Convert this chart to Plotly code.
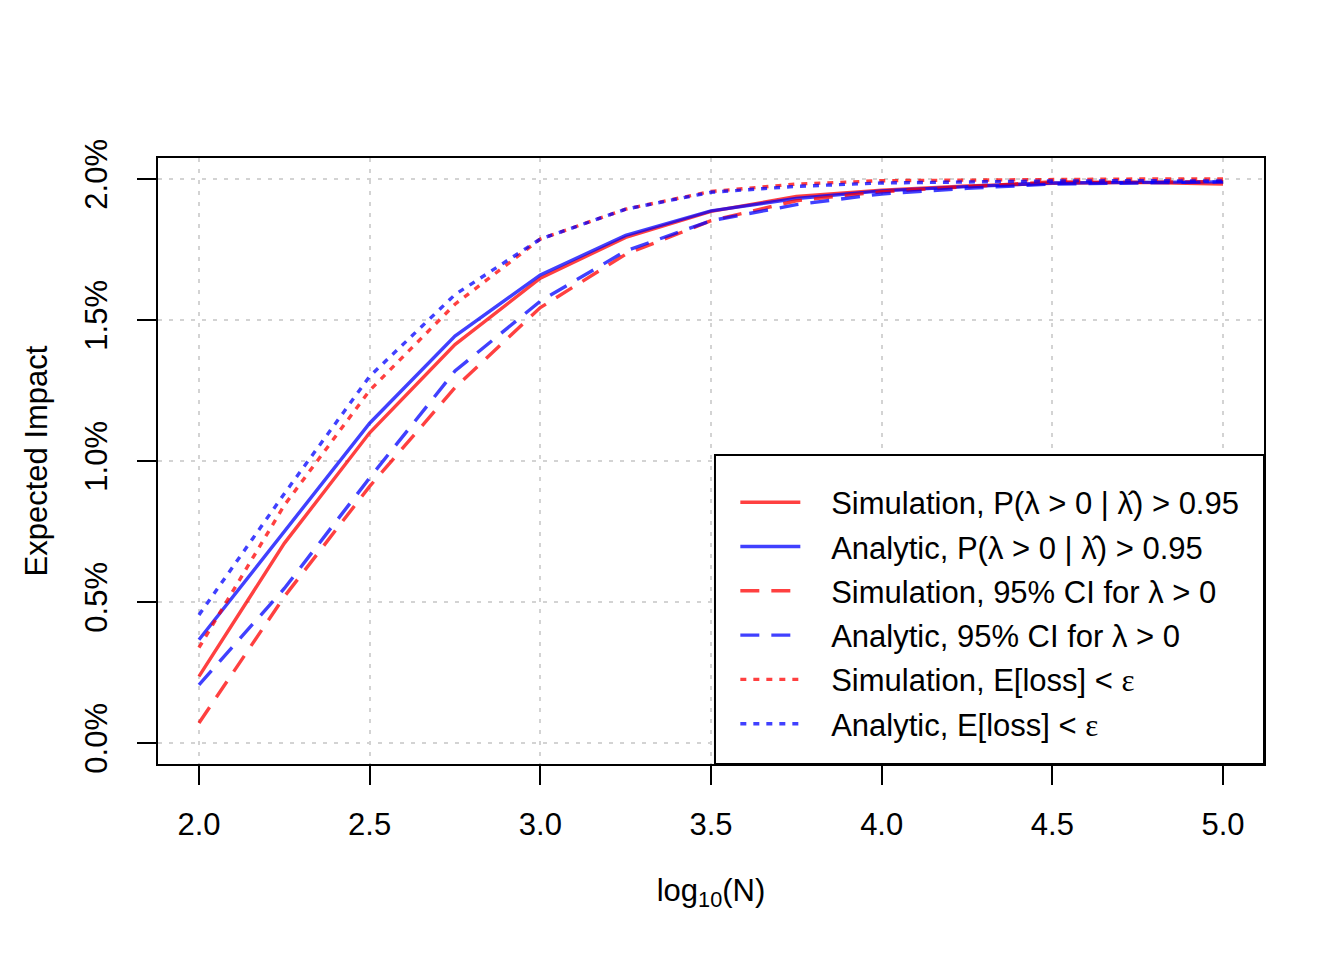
import plotly.graph_objects as go

# ---- data ----
log10_N = [2.0, 2.25, 2.5, 2.75, 3.0, 3.25, 3.5, 3.75, 4.0, 4.25, 4.5, 4.75, 5.0]

sim_prob = [0.236, 0.708, 1.10, 1.413, 1.648, 1.793, 1.885, 1.938, 1.960, 1.975, 1.985, 1.988, 1.982]
ana_prob = [0.366, 0.749, 1.134, 1.443, 1.660, 1.800, 1.887, 1.931, 1.958, 1.973, 1.986, 1.988, 1.990]
sim_ci = [0.071, 0.519, 0.91, 1.26, 1.544, 1.733, 1.852, 1.923, 1.955, 1.974, 1.990, 1.988, 1.991]
ana_ci = [0.206, 0.548, 0.94, 1.319, 1.567, 1.745, 1.852, 1.909, 1.947, 1.967, 1.982, 1.986, 1.990]
sim_loss = [0.338, 0.843, 1.25, 1.556, 1.787, 1.893, 1.956, 1.982, 1.994, 1.996, 2.000, 2.000, 2.000]
ana_loss = [0.454, 0.884, 1.30, 1.590, 1.787, 1.893, 1.953, 1.974, 1.986, 1.990, 1.993, 1.994, 1.993]

PAD = "\u00a0\u00a0\u00a0"
EPS = "<span style='font-family:Liberation Serif'>ε</span>"
series_names = [
    PAD + "Simulation, P(λ > 0 | λ\u0302) > 0.95",
    PAD + "Analytic, P(λ > 0 | λ\u0302) > 0.95",
    PAD + "Simulation, 95% CI for λ > 0",
    PAD + "Analytic, 95% CI for λ > 0",
    PAD + "Simulation, E[loss] < " + EPS,
    PAD + "Analytic, E[loss] < " + EPS,
]
series_values = [sim_prob, ana_prob, sim_ci, ana_ci, sim_loss, ana_loss]

x_ticks = [2.0, 2.5, 3.0, 3.5, 4.0, 4.5, 5.0]
x_ticklabels = ["2.0", "2.5", "3.0", "3.5", "4.0", "4.5", "5.0"]
y_ticks = [0.0, 0.5, 1.0, 1.5, 2.0]
y_ticklabels = ["0.0%", "0.5%", "1.0%", "1.5%", "2.0%"]

RED = "rgba(255,0,0,0.75)"
BLUE = "rgba(0,0,255,0.75)"
colors = [RED, BLUE, RED, BLUE, RED, BLUE]
dashes = ["solid", "solid", "19px,12px", "19px,12px", "6px,7px", "6px,7px"]

FONT = "Liberation Sans, Arial, Helvetica, sans-serif"

fig = go.Figure()
for i, (name, vals) in enumerate(zip(series_names, series_values)):
    fig.add_trace(go.Scatter(
        x=log10_N, y=vals, mode="lines", name=name,
        line=dict(color=colors[i], width=3.4, dash=dashes[i]),
        legendgroup=f"g{i}",
    ))

fig.update_layout(
    width=1337, height=953,
    margin=dict(l=150, r=81, t=150, b=197),
    paper_bgcolor="white", plot_bgcolor="white",
    font=dict(family=FONT, size=31, color="black"),
    showlegend=True,
    legend=dict(
        x=0.522, y=0.476, xanchor="left", yanchor="top",
        bgcolor="rgba(0,0,0,0)", borderwidth=0,
        font=dict(size=31, family=FONT),
        tracegroupgap=1, itemwidth=60,
    ),
    shapes=[dict(
        type="rect", xref="paper", yref="paper",
        x0=0.5036, x1=1.0, y0=0.0, y1=0.51,
        fillcolor="white", line=dict(color="black", width=2), layer="above",
    )],
)

fig.update_xaxes(
    range=[1.88, 5.12], tickvals=x_ticks, ticktext=x_ticklabels,
    showline=True, linecolor="black", linewidth=2, mirror=True,
    ticks="outside", ticklen=19, tickwidth=2, tickcolor="black",
    ticklabelstandoff=13,
    showgrid=True, gridcolor="#D3D3D3", gridwidth=1.5, griddash="4px,7px",
    zeroline=False,
    title=dict(text="log<sub>10</sub>(N)", font=dict(size=31), standoff=38),
)
fig.update_yaxes(
    range=[-0.0745, 2.0745], tickvals=y_ticks, ticktext=y_ticklabels,
    tickangle=-90,
    showline=True, linecolor="black", linewidth=2, mirror=True,
    ticks="outside", ticklen=19, tickwidth=2, tickcolor="black",
    ticklabelstandoff=18,
    showgrid=True, gridcolor="#D3D3D3", gridwidth=1.5, griddash="4px,7px",
    zeroline=False,
    title=dict(text="Expected Impact", font=dict(size=31), standoff=22),
)

fig.write_html("out.html")
